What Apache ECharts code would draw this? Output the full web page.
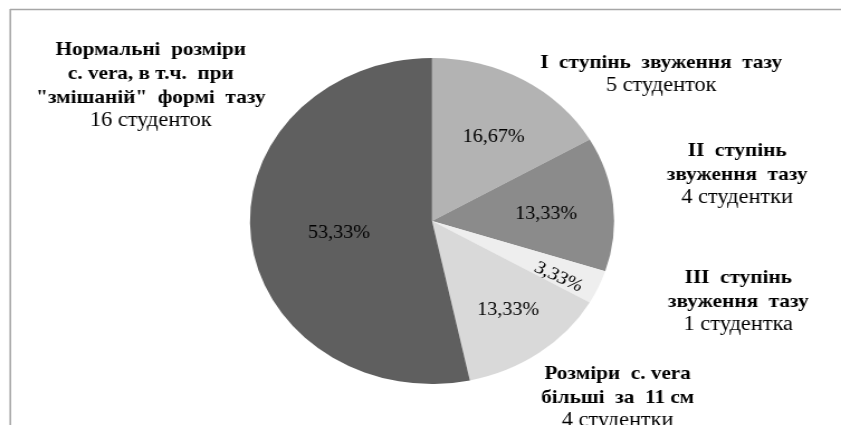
<!DOCTYPE html>
<html>
<head>
<meta charset="utf-8">
<script src="https://cdn.jsdelivr.net/npm/echarts@6/dist/echarts.min.js"></script>
<style>
html,body{margin:0;padding:0;background:#fff;overflow:hidden;}
#wrap{width:841px;height:425px;overflow:hidden;}
#chart{width:753px;height:425px;transform:scaleX(1.1169);transform-origin:0 0;}
</style>
</head>
<body>
<div id="wrap"><div id="chart"></div></div>
<script>
// Data (clockwise from 12 o'clock)
const categories = [
  'I  ступінь  звуження  тазу',
  'II  ступінь\nзвуження  тазу',
  'III  ступінь\nзвуження  тазу',
  'Розміри  с. vera\nбільші  за  11 см',
  'Нормальні  розміри\nс. vera, в т.ч.  при\n"змішаній"  формі  тазу'
];
const counts = [5, 4, 1, 4, 16];
const countLabels = ['5 студенток', '4 студентки', '1 студентка', '4 студентки', '16 студенток'];
const colors = ['#b3b3b3', '#8b8b8b', '#eeeeee', '#d9d9d9', '#5f5f5f'];

// label anchor positions (chart coordinates, before horizontal stretch)
const pctPos = [[442, 137], [489, 214], [500, 277], [455, 310], [303.5, 233]];
const pctRot = [0, 0, -27, 0, 0];
const namePos = [[592, 74], [660, 174], [661, 301], [553, 397], [135, 85]];

const total = counts.reduce((a, b) => a + b, 0);
const data = categories.map((c, i) => ({ name: c, value: counts[i], itemStyle: { color: colors[i] } }));

const chart = echarts.init(document.getElementById('chart'), null, { renderer: 'canvas' });
const fontFamily = 'Liberation Serif, Times New Roman, serif';

chart.setOption({
  animation: false,
  backgroundColor: '#fff',
  graphic: [
    { type: 'line', shape: { x1: 9, y1: 9.5, x2: 760, y2: 9.5 }, style: { stroke: '#a6a6a6', lineWidth: 1.5 }, z: 100 },
    { type: 'line', shape: { x1: 9.2, y1: 9, x2: 9.2, y2: 430 }, style: { stroke: '#a6a6a6', lineWidth: 1.5 }, z: 100 }
  ],
  series: [
    {
      type: 'pie',
      center: [386.8, 221],
      radius: [0, 163],
      startAngle: 90,
      clockwise: true,
      data: data,
      itemStyle: { borderWidth: 0 },
      label: {
        show: true,
        position: 'inside',
        fontFamily: fontFamily,
        fontSize: 18,
        color: '#000',
        formatter: p => (p.value / total * 100).toFixed(2).replace('.', ',') + '%'
      },
      labelLine: { show: false },
      labelLayout: p => ({
        x: pctPos[p.dataIndex][0],
        y: pctPos[p.dataIndex][1],
        align: 'center',
        verticalAlign: 'middle',
        rotate: pctRot[p.dataIndex]
      }),
      emphasis: { disabled: true },
      silent: true
    },
    {
      type: 'pie',
      center: [386.8, 221],
      radius: [0, 163],
      startAngle: 90,
      clockwise: true,
      data: data.map(d => ({ name: d.name, value: d.value, itemStyle: { color: 'rgba(0,0,0,0)' } })),
      z: 3,
      label: {
        show: true,
        position: 'inside',
        overflow: 'none',
        fontFamily: fontFamily,
        color: '#000',
        align: 'center',
        formatter: p => {
          const lines = p.name.split('\n').map(l => '{b|' + l + '}');
          return lines.join('\n') + '\n{n|' + countLabels[p.dataIndex] + '}';
        },
        rich: {
          b: { fontFamily: fontFamily, fontWeight: 'bold', fontSize: 19, lineHeight: 24, color: '#000', align: 'center' },
          n: { fontFamily: fontFamily, fontSize: 20, lineHeight: 22, color: '#000', align: 'center' }
        }
      },
      labelLine: { show: false },
      labelLayout: p => ({
        x: namePos[p.dataIndex][0],
        y: namePos[p.dataIndex][1],
        align: 'center',
        verticalAlign: 'middle'
      }),
      emphasis: { disabled: true },
      silent: true
    }
  ]
});
</script>
</body>
</html>
